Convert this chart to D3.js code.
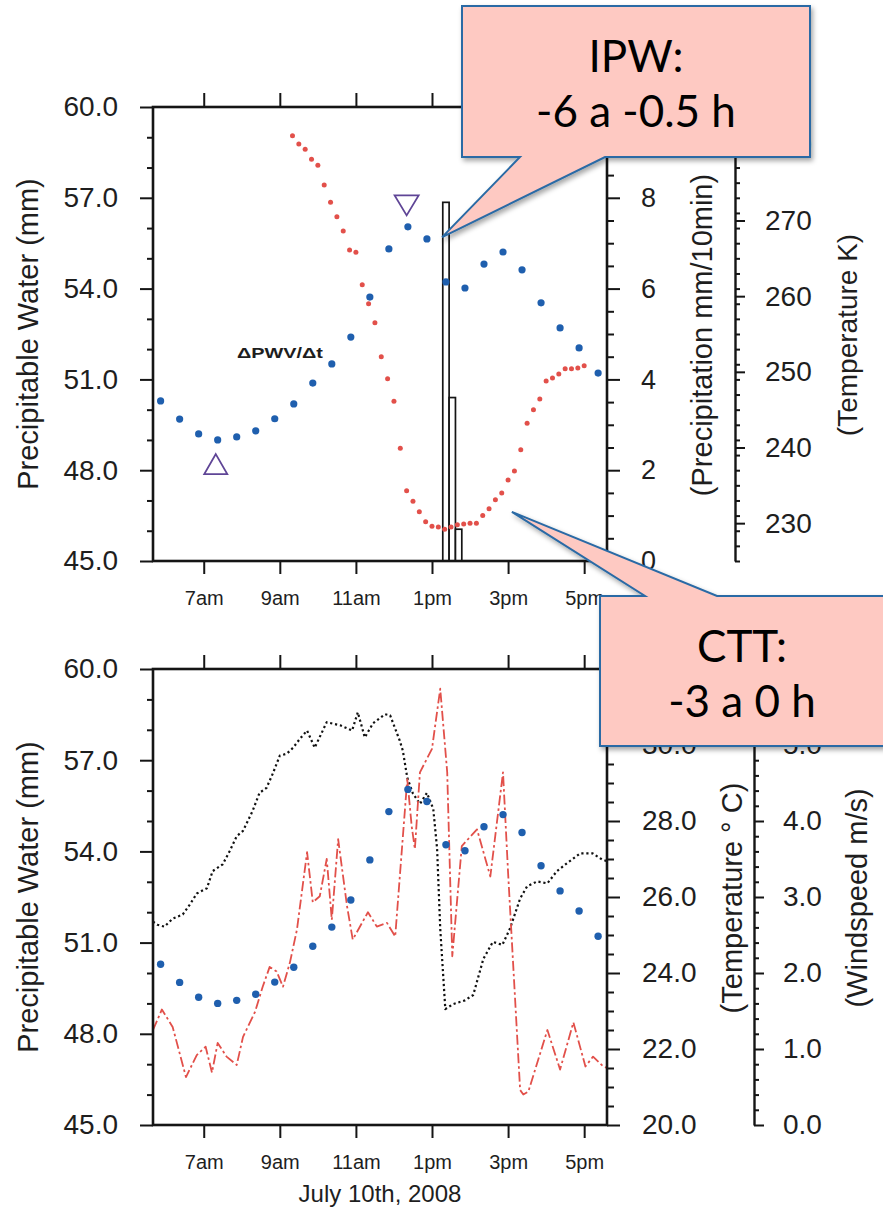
<!DOCTYPE html>
<html>
<head>
<meta charset="utf-8">
<script src="https://cdn.jsdelivr.net/npm/d3@7"></script>
<style>
  html, body { margin: 0; padding: 0; background: #fff; }
  svg { display: block; }
  text { font-family: "Liberation Sans", Arial, Helvetica, sans-serif; fill: #1e1e1e; }
  .callout-text { font-family: Lato, "Open Sans", sans-serif; fill: #000; }
</style>
</head>
<body>
<svg id="chart" width="883" height="1212"></svg>
<script>
// ---------- data ----------
// Integrated precipitable water (GPS), half-hourly, mm
const pwvTimes = ["05:52","06:22","06:52","07:22","07:52","08:22","08:52","09:22","09:52","10:22",
                  "10:52","11:22","11:52","12:22","12:52","13:22","13:52","14:22","14:52","15:22",
                  "15:52","16:22","16:52","17:22"];
const pwvValues = [50.29, 49.69, 49.2, 49.0, 49.1, 49.3, 49.7, 50.19, 50.88, 51.51,
                   52.4, 53.72, 55.31, 56.04, 55.64, 54.22, 54.02, 54.81, 55.21, 54.62,
                   53.53, 52.7, 52.04, 51.21];

// Cloud top temperature, 10-minute, K
const cttTimes = ["09:20","09:30","09:40","09:50","10:00","10:10","10:20","10:30","10:40","10:50",
                  "11:00","11:10","11:20","11:30","11:40","11:50","12:00","12:10","12:20","12:30",
                  "12:40","12:50","13:00","13:10","13:20","13:30","13:40","13:50","14:00","14:10",
                  "14:20","14:30","14:40","14:50","15:00","15:10","15:20","15:30","15:40","15:50",
                  "16:00","16:10","16:20","16:30","16:40","16:50","17:00"];
const cttValues = [281.2, 280.1, 279.4, 278.1, 277.3, 274.7, 272.4, 270.5, 268.6, 266.1,
                   265.8, 261.5, 259.0, 256.5, 252.0, 249.1, 246.1, 239.9, 234.3, 232.9,
                   231.5, 230.2, 229.6, 229.5, 229.2, 229.5, 229.8, 229.9, 230.0, 230.0,
                   231.0, 231.9, 233.1, 234.0, 235.7, 236.9, 239.7, 243.2, 245.0, 246.4,
                   248.8, 249.2, 249.7, 250.4, 250.4, 250.5, 250.8];

// Precipitation, 10-minute bins (bin start), mm/10min
const rainStart = ["13:17", "13:27", "13:37"];
const rainValues = [7.9, 3.6, 0.7];

// PWV minimum / maximum markers
const pwvMinTime = ["07:19"], pwvMinValue = [48.2];
const pwvMaxTime = ["12:20"], pwvMaxValue = [56.75];

// Surface air temperature, deg C
const airTimes = ["05:40","05:47","05:58","06:11","06:27","06:38","06:49","07:05","07:14","07:30",
                  "07:41","07:52","08:02","08:17","08:28","08:39","08:49","09:00","09:11","09:21",
                  "09:32","09:43","09:55","10:14","10:35","10:54","11:03","11:14","11:27","11:46",
                  "11:54","12:09","12:14","12:21","12:30","12:41","12:52","13:02","13:08","13:13",
                  "13:21","13:33","13:52","14:05","14:21","14:36","14:51","15:03","15:19","15:30",
                  "15:46","16:02","16:17","16:33","16:54","17:13","17:28","17:36"];
const airValues = [25.35, 25.27, 25.22, 25.43, 25.54, 25.80, 26.09, 26.23, 26.68, 26.86,
                   27.21, 27.60, 27.74, 28.26, 28.74, 28.87, 29.25, 29.72, 29.77, 29.93,
                   30.17, 30.38, 29.93, 30.60, 30.52, 30.38, 30.86, 30.20, 30.57, 30.81,
                   30.78, 30.12, 29.85, 29.14, 28.72, 28.45, 28.74, 28.32, 27.28, 25.17,
                   23.05, 23.18, 23.28, 23.42, 24.37, 24.82, 24.74, 25.17, 25.96, 26.28,
                   26.41, 26.36, 26.68, 26.89, 27.15, 27.15, 26.99, 26.94];

// Wind speed, m/s
const windTimes = ["05:40","05:54","06:11","06:32","06:49","07:03","07:13","07:22","07:36","07:52",
                   "08:02","08:21","08:33","08:44","08:55","09:05","09:16","09:27","09:43","09:52",
                   "10:03","10:14","10:22","10:32","10:46","10:55","11:19","11:33","11:49","12:02",
                   "12:21","12:28","12:33","12:41","13:00","13:13","13:24","13:32","13:47","14:11",
                   "14:32","14:52","15:00","15:19","15:24","15:32","16:02","16:22","16:43","17:02",
                   "17:14","17:30","17:36"];
const windValues = [1.25, 1.52, 1.29, 0.63, 0.92, 1.03, 0.69, 1.08, 0.90, 0.79,
                    1.16, 1.49, 1.82, 2.08, 2.02, 1.82, 2.14, 2.57, 3.59, 2.93,
                    3.01, 3.50, 2.70, 3.76, 2.88, 2.44, 2.80, 2.61, 2.66, 2.48,
                    4.55, 3.93, 3.63, 4.64, 4.95, 5.74, 4.64, 2.22, 3.67, 3.89,
                    3.27, 4.64, 3.32, 0.46, 0.40, 0.44, 1.25, 0.73, 1.35, 0.77,
                    0.90, 0.77, 0.75];

// Axis ticks and labels (the topmost right-hand labels sit under the callouts)
const timeDomain = ["05:40", "17:36"];
const hourTicks = ["07:00", "09:00", "11:00", "13:00", "15:00", "17:00"];
const hourTickLabels = ["7am", "9am", "11am", "1pm", "3pm", "5pm"];
const pwvMajor = [45, 48, 51, 54, 57, 60];
const rainMajor = [0, 2, 4, 6, 8];
const kelvinMajor = [230, 240, 250, 260, 270, 280];
const celsiusMajor = [20, 22, 24, 26, 28, 30];
const windMajor = [0, 1, 2, 3, 4, 5];

// Callout texts
const callout1 = ["IPW:", "-6 a -0.5 h"];
const callout2 = ["CTT:", "-3 a 0 h"];

// ---------- helpers ----------
const hm = s => { const [h, m] = s.split(":").map(Number); return h + m / 60; };
const zip = (ts, vs) => ts.map((t, i) => ({ t: hm(t), v: vs[i] }));
const stepRange = (a, b, step) => { const out = []; for (let v = a; v <= b + 1e-9; v += step) out.push(+v.toFixed(4)); return out; };
const minorOf = (a, b, step, majors) => stepRange(a, b, step).filter(v => !majors.some(m => Math.abs(m - v) < 1e-6));

const svg = d3.select("#chart");
const defs = svg.append("defs");

const X0 = 153, X1 = 607;
const x = d3.scaleLinear().domain(timeDomain.map(hm)).range([X0, X1]);

const panelTop = { y0: 107, y1: 561 };
const panelBot = { y0: 669, y1: 1125 };

const yPwTop = d3.scaleLinear().domain([45, 60]).range([panelTop.y1, panelTop.y0]);
const yRain = d3.scaleLinear().domain([0, 10]).range([panelTop.y1, panelTop.y0]);
const yK = d3.scaleLinear().domain([225, 285]).range([panelTop.y1, panelTop.y0]);
const yPwBot = d3.scaleLinear().domain([45, 60]).range([panelBot.y1, panelBot.y0]);
const yC = d3.scaleLinear().domain([20, 32]).range([panelBot.y1, panelBot.y0]);
const yWind = d3.scaleLinear().domain([0, 6]).range([panelBot.y1, panelBot.y0]);

const INK = "#151515";

function styleAxis(g, fontSize, keepDomain) {
  if (!keepDomain) g.select(".domain").remove();
  else g.select(".domain").attr("stroke", INK).attr("stroke-width", 2.4);
  g.selectAll(".tick line").attr("stroke", INK).attr("stroke-width", 2);
  g.selectAll(".tick text").attr("font-size", fontSize).attr("fill", "#1e1e1e")
    .attr("font-family", '"Liberation Sans", Arial, sans-serif');
}

function vAxis(xPos, scale, side, majors, minors, fmt, majLen, minLen, pad, fontSize, keepDomain) {
  const make = side === "left" ? d3.axisLeft : d3.axisRight;
  const gMin = svg.append("g").attr("transform", `translate(${xPos},0)`)
    .call(make(scale).tickValues(minors).tickSize(minLen).tickSizeOuter(0).tickFormat(""));
  styleAxis(gMin, fontSize, false);
  const gMaj = svg.append("g").attr("transform", `translate(${xPos},0)`)
    .call(make(scale).tickValues(majors).tickSize(majLen).tickSizeOuter(0).tickPadding(pad).tickFormat(fmt));
  styleAxis(gMaj, fontSize, keepDomain);
  return gMaj;
}

function timeAxes(p) {
  const gb = svg.append("g").attr("transform", `translate(0,${p.y1})`)
    .call(d3.axisBottom(x).tickValues(hourTicks.map(hm)).tickSize(13).tickSizeOuter(0)
      .tickPadding(17).tickFormat((d, i) => hourTickLabels[i]));
  styleAxis(gb, 20, false);
  const gt = svg.append("g").attr("transform", `translate(0,${p.y0})`)
    .call(d3.axisTop(x).tickValues(hourTicks.map(hm)).tickSize(14).tickSizeOuter(0).tickFormat(""));
  styleAxis(gt, 20, false);
}

function frame(p) {
  svg.append("rect").attr("x", X0).attr("y", p.y0).attr("width", X1 - X0).attr("height", p.y1 - p.y0)
    .attr("fill", "none").attr("stroke", INK).attr("stroke-width", 2.6);
}

function clipFor(id, p) {
  defs.append("clipPath").attr("id", id).append("rect")
    .attr("x", X0).attr("y", p.y0).attr("width", X1 - X0).attr("height", p.y1 - p.y0);
  return `url(#${id})`;
}

function vTitle(txt, xPos, yMid, size) {
  svg.append("text").attr("transform", `translate(${xPos},${yMid}) rotate(-90)`)
    .attr("text-anchor", "middle").attr("font-size", size).text(txt);
}

function triangle(cx, cy, w, h, up) {
  const p = d3.path();
  if (up) { p.moveTo(cx, cy - h / 2); p.lineTo(cx + w / 2, cy + h / 2); p.lineTo(cx - w / 2, cy + h / 2); }
  else { p.moveTo(cx, cy + h / 2); p.lineTo(cx + w / 2, cy - h / 2); p.lineTo(cx - w / 2, cy - h / 2); }
  p.closePath();
  return p.toString();
}

const BLUE = "#1f5fae", RED = "#e2504a", PURPLE = "#5f4596";
const fmt1 = d3.format(".1f");

// ---------- top panel ----------
const clipTop = clipFor("clip-top", panelTop);
const gTop = svg.append("g").attr("clip-path", clipTop);

// precipitation bars (10-minute bins)
const binW = x(hm("00:10")) - x(hm("00:00"));
gTop.selectAll("rect.rain").data(zip(rainStart, rainValues)).join("rect")
  .attr("class", "rain")
  .attr("x", d => x(d.t)).attr("width", binW)
  .attr("y", d => yRain(d.v)).attr("height", d => yRain(0) - yRain(d.v))
  .attr("fill", "#fff").attr("stroke", INK).attr("stroke-width", 1.7);

// cloud top temperature
gTop.selectAll("circle.ctt").data(zip(cttTimes, cttValues)).join("circle")
  .attr("class", "ctt").attr("cx", d => x(d.t)).attr("cy", d => yK(d.v))
  .attr("r", 2.5).attr("fill", RED);

// precipitable water
gTop.selectAll("circle.pwv").data(zip(pwvTimes, pwvValues)).join("circle")
  .attr("class", "pwv").attr("cx", d => x(d.t)).attr("cy", d => yPwTop(d.v))
  .attr("r", 3.6).attr("fill", BLUE);

// min / max markers
zip(pwvMinTime, pwvMinValue).forEach(d => {
  svg.append("path").attr("d", triangle(x(d.t), yPwTop(d.v), 23, 20, true))
    .attr("fill", "none").attr("stroke", PURPLE).attr("stroke-width", 1.8);
});
zip(pwvMaxTime, pwvMaxValue).forEach(d => {
  svg.append("path").attr("d", triangle(x(d.t), yPwTop(d.v), 24, 20, false))
    .attr("fill", "none").attr("stroke", PURPLE).attr("stroke-width", 1.8);
});

svg.append("text").attr("x", 237).attr("y", 358).attr("font-size", 15).attr("font-weight", "bold")
  .attr("textLength", 86).attr("lengthAdjust", "spacingAndGlyphs").text("\u0394PWV/\u0394t");

frame(panelTop);
timeAxes(panelTop);
vAxis(X0, yPwTop, "left", pwvMajor, minorOf(45, 60, 1, pwvMajor), fmt1, 13, 6, 22, 28, false);
vAxis(X1, yRain, "right", rainMajor, minorOf(0, 10, 0.5, rainMajor), d3.format("d"), 13, 7, 21, 27, false);
vAxis(735, yK, "right", kelvinMajor, minorOf(225, 285, 2, kelvinMajor), d3.format("d"), 10, 5, 20, 28, true);

vTitle("Precipitable Water (mm)", 38, (panelTop.y0 + panelTop.y1) / 2, 29);
vTitle("(Precipitation mm/10min)", 712, 335, 29);
vTitle("(Temperature K)", 857, 335, 28);

// ---------- bottom panel ----------
const clipBot = clipFor("clip-bot", panelBot);
const gBot = svg.append("g").attr("clip-path", clipBot);

const airLine = d3.line().x(d => x(d.t)).y(d => yC(d.v));
gBot.append("path").datum(zip(airTimes, airValues)).attr("d", airLine)
  .attr("fill", "none").attr("stroke", "#111").attr("stroke-width", 2.2)
  .attr("stroke-dasharray", "2.2,2.8").attr("stroke-linejoin", "round");

const windLine = d3.line().x(d => x(d.t)).y(d => yWind(d.v));
gBot.append("path").datum(zip(windTimes, windValues)).attr("d", windLine)
  .attr("fill", "none").attr("stroke", RED).attr("stroke-width", 1.8)
  .attr("stroke-dasharray", "10,3,2.5,3").attr("stroke-linejoin", "round");

gBot.selectAll("circle.pwv").data(zip(pwvTimes, pwvValues)).join("circle")
  .attr("class", "pwv").attr("cx", d => x(d.t)).attr("cy", d => yPwBot(d.v))
  .attr("r", 3.7).attr("fill", BLUE);

frame(panelBot);
timeAxes(panelBot);
vAxis(X0, yPwBot, "left", pwvMajor, minorOf(45, 60, 1, pwvMajor), fmt1, 13, 6, 22, 28, false);
vAxis(X1, yC, "right", celsiusMajor, minorOf(20, 32, 0.5, celsiusMajor), fmt1, 13, 7, 22, 28, false);
vAxis(754, yWind, "right", windMajor, minorOf(0, 6, 0.2, windMajor), fmt1, 10, 5, 19, 28, true);

vTitle("Precipitable Water (mm)", 38, (panelBot.y0 + panelBot.y1) / 2, 29);
vTitle("(Temperature \u00b0 C)", 742, 898, 29);
vTitle("(Windspeed m/s)", 867, 898, 29);

svg.append("text").attr("x", 380).attr("y", 1202).attr("text-anchor", "middle")
  .attr("font-size", 24).text("July 10th, 2008");

// ---------- callouts ----------
const shadow = defs.append("filter").attr("id", "shadow").attr("x", "-10%").attr("y", "-10%")
  .attr("width", "130%").attr("height", "140%");
shadow.append("feDropShadow").attr("dx", 2).attr("dy", 3).attr("stdDeviation", 2.5)
  .attr("flood-color", "#000").attr("flood-opacity", 0.35);

function callout(box, base, tip, lines, lineY) {
  const [bx0, by0, bx1, by1] = box;
  const p = d3.path();
  if (base.edge === "bottom") {
    p.moveTo(bx0, by0); p.lineTo(bx1, by0); p.lineTo(bx1, by1);
    p.lineTo(base.b, by1); p.lineTo(tip[0], tip[1]); p.lineTo(base.a, by1); p.lineTo(bx0, by1);
  } else {
    p.moveTo(bx0, by0); p.lineTo(base.a, by0); p.lineTo(tip[0], tip[1]); p.lineTo(base.b, by0);
    p.lineTo(bx1, by0); p.lineTo(bx1, by1); p.lineTo(bx0, by1);
  }
  p.closePath();
  const g = svg.append("g");
  g.append("path").attr("d", p.toString()).attr("fill", "#fec9c2")
    .attr("stroke", "#2a6aa5").attr("stroke-width", 2).attr("stroke-linejoin", "miter")
    .attr("filter", "url(#shadow)");
  lines.forEach((t, i) => {
    g.append("text").attr("class", "callout-text").attr("x", (bx0 + bx1) / 2).attr("y", lineY[i])
      .attr("text-anchor", "middle").attr("font-size", 44).text(t);
  });
}

callout([462, 6, 810, 157], { edge: "bottom", a: 520, b: 605 },
  [x(hm("13:16")), yPwTop(55.7)], callout1, [72, 127]);
callout([600, 596, 884, 746], { edge: "top", a: 645, b: 717 },
  [x(hm("15:06")), yK(231.5)], callout2, [662, 717]);
</script>
</body>
</html>
